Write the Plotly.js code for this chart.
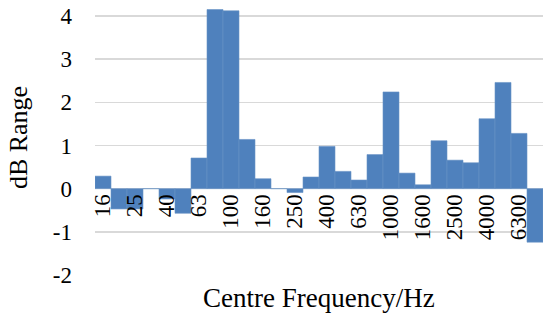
<!DOCTYPE html>
<html><head><meta charset="utf-8">
<script src="https://cdn.plot.ly/plotly-3.0.1.min.js"></script>
<style>html,body{margin:0;padding:0;background:#fff}#chart{width:544px;height:313px}</style>
</head><body><div id="chart"></div>
<script>
var categories = ["16","20","25","31.5","40","50","63","80","100","125","160","200","250","315","400","500","630","800","1000","1250","1600","2000","2500","3150","4000","5000","6300","8000"];
var dbRange = [0.29,-0.47,-0.47,0,-0.24,-0.57,0.71,4.15,4.12,1.14,0.23,0,-0.09,0.27,0.98,0.40,0.20,0.79,2.24,0.36,0.09,1.11,0.66,0.60,1.62,2.46,1.28,-1.24];
var tickLabels = ["16","25","40","63","100","160","250","400","630","1000","1600","2500","4000","6300"];
var yTicks = [-2,-1,0,1,2,3,4];
var yTickText = ["-2","-1","0","1","2","3","4"];

var yMin = -2, yMax = 4.37;
var font = "Liberation Serif, Cambria, serif";
var trace = {
  type: 'bar', x: categories, y: dbRange,
  marker: {color: '#4f81bd', line: {color: '#6a93c6', width: 0.6}},
  hoverinfo: 'none'
};
var plotH = 313 - 38;
var layout = {
  width: 544, height: 313,
  margin: {l: 95, r: 1, t: 0, b: 38},
  paper_bgcolor: '#fff', plot_bgcolor: '#fff',
  bargap: 0, showlegend: false,
  font: {family: font, size: 23, color: '#000'},
  xaxis: {
    type: 'category', range: [-0.5, 27.5],
    tickmode: 'array', tickvals: tickLabels, ticktext: tickLabels,
    tickangle: -90, showgrid: false, showline: false, ticks: '',
    anchor: 'free', position: (0 - yMin) / (yMax - yMin),
    tickfont: {family: font, size: 23, color: '#000'}
  },
  yaxis: {
    range: [yMin, yMax], tickmode: 'array', tickvals: yTicks, ticktext: yTickText, ticks: '',
    showgrid: true, gridcolor: '#d9d9d9', gridwidth: 1.5,
    zeroline: true, zerolinecolor: '#d9d9d9', zerolinewidth: 1.5,
    showline: false, ticklabelstandoff: 22,
    tickfont: {family: font, size: 23, color: '#000'},
    title: {text: 'dB Range', font: {family: font, size: 26, color: '#000'}, standoff: 17}
  },
  annotations: [{
    text: 'Centre Frequency/Hz', xref: 'paper', yref: 'paper',
    x: 0.5, xanchor: 'center', y: -23 / plotH, yanchor: 'middle', showarrow: false,
    font: {family: font, size: 27, color: '#000'}
  }]
};
Plotly.newPlot('chart', [trace], layout, {staticPlot: true, displayModeBar: false});
</script></body></html>
